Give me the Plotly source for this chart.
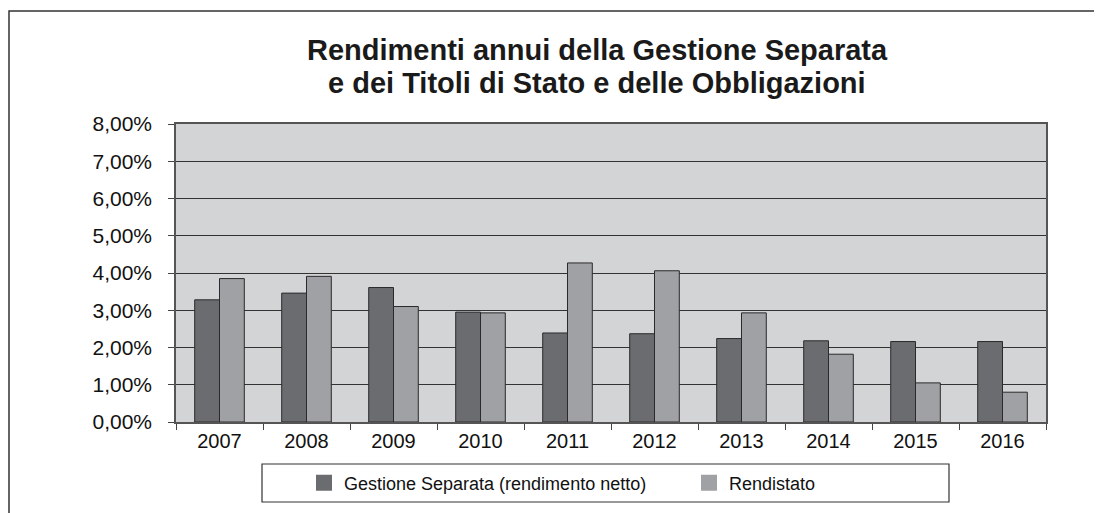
import plotly.graph_objects as go

years = ["2007", "2008", "2009", "2010", "2011", "2012", "2013", "2014", "2015", "2016"]
gestione = [3.28, 3.46, 3.61, 2.95, 2.39, 2.37, 2.24, 2.18, 2.16, 2.16]
rendistato = [3.85, 3.91, 3.10, 2.93, 4.27, 4.06, 2.93, 1.82, 1.05, 0.80]
y_ticks = [0, 1, 2, 3, 4, 5, 6, 7, 8]
y_labels = [f"{v:.2f}%".replace(".", ",") for v in y_ticks]

font = "Liberation Sans, Arial, sans-serif"
series = [
    ("Gestione Separata (rendimento netto)", gestione, "#6b6c70"),
    ("Rendistato", rendistato, "#a0a1a5"),
]

fig = go.Figure()
for name, vals, col in series:
    fig.add_trace(go.Bar(
        x=years, y=vals, name=name, showlegend=False,
        marker=dict(color=col, line=dict(color="#2a2a2a", width=1))
    ))
# legend-only entries so the swatches come out as larger squares
for name, vals, col in series:
    fig.add_trace(go.Scatter(
        x=[None], y=[None], mode="markers", name=name,
        marker=dict(symbol="square", size=16, color=col)
    ))

# the page puts the figure 8px in from the window corner
OFF = 8
L, T, W, H = 176 - OFF, 124 - OFF, 870, 298

def px_x(p):
    return (p - OFF - L) / W

def px_y(p):
    return (T + H - (p - OFF)) / H

fig.update_layout(
    width=1102, height=513,
    margin=dict(l=L, r=1102 - L - W, t=T, b=513 - T - H, autoexpand=False),
    paper_bgcolor="white",
    plot_bgcolor="#d3d4d6",
    font=dict(family=font, size=20, color="#111"),
    barmode="group",
    bargap=0.43,
    bargroupgap=0,
    showlegend=True,
    legend=dict(
        orientation="h", xref="container", yref="container",
        x=(304 - OFF) / 1102, xanchor="left",
        y=1 - (483 - OFF) / 513, yanchor="middle",
        font=dict(size=18), entrywidth=340, bgcolor="rgba(0,0,0,0)",
        traceorder="normal", itemsizing="trace"
    ),
    xaxis=dict(
        showgrid=False, showline=True, linecolor="#555", linewidth=1.5,
        mirror=True, ticks="outside", tickson="boundaries", ticklen=6,
        tickcolor="#444"
    ),
    yaxis=dict(
        range=[0, 8], tickvals=y_ticks, ticktext=y_labels,
        showgrid=True, gridcolor="#333", gridwidth=1,
        showline=True, linecolor="#555", linewidth=1.5, mirror=True,
        ticks="outside", ticklen=6, tickcolor="#444", zeroline=False,
        ticklabelstandoff=12, tickfont=dict(size=21)
    ),
    annotations=[
        dict(text="<b>Rendimenti annui della Gestione Separata</b>",
             xref="paper", yref="paper", x=px_x(597), y=px_y(50),
             xanchor="center", yanchor="middle", showarrow=False,
             font=dict(size=29, color="#1a1a1a")),
        dict(text="<b>e dei Titoli di Stato e delle Obbligazioni</b>",
             xref="paper", yref="paper", x=px_x(597), y=px_y(83),
             xanchor="center", yanchor="middle", showarrow=False,
             font=dict(size=29, color="#1a1a1a")),
    ],
    shapes=[
        dict(type="rect", xref="paper", yref="paper",
             x0=px_x(9), x1=px_x(1120), y0=px_y(530), y1=px_y(11),
             line=dict(color="#333", width=1.5)),
        dict(type="rect", xref="paper", yref="paper",
             x0=px_x(262), x1=px_x(949), y0=px_y(502), y1=px_y(464),
             line=dict(color="#333", width=1.2)),
    ],
)

fig.write_html("out.html")
